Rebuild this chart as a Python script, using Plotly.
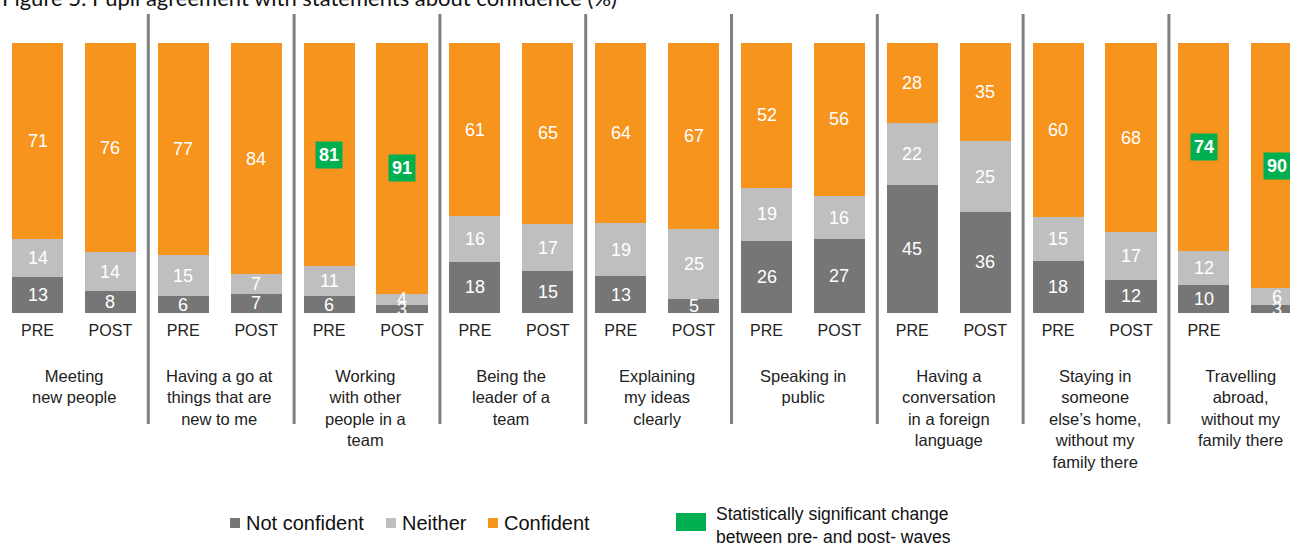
import plotly.graph_objects as go

# Confidence statements (one group per statement, PRE and POST bars each)
statements = [
    "Meeting<br>new people",
    "Having a go at<br>things that are<br>new to me",
    "Working<br>with other<br>people in a<br>team",
    "Being the<br>leader of a<br>team",
    "Explaining<br>my ideas<br>clearly",
    "Speaking in<br>public",
    "Having a<br>conversation<br>in a foreign<br>language",
    "Staying in<br>someone<br>else\u2019s home,<br>without my<br>family there",
    "Travelling<br>abroad,<br>without my<br>family there",
]
waves = ["PRE", "POST"]

# Percentages, ordered PRE, POST for each statement
not_confident = [13, 8, 6, 7, 6, 3, 18, 15, 13, 5, 26, 27, 45, 36, 18, 12, 10, 3]
neither = [14, 14, 15, 7, 11, 4, 16, 17, 19, 25, 19, 16, 22, 25, 15, 17, 12, 6]
confident = [71, 76, 77, 84, 81, 91, 61, 65, 64, 67, 52, 56, 28, 35, 60, 68, 74, 90]

# Bars whose 'Confident' value changed significantly between waves
significant = [4, 5, 16, 17]

C_NOT = "#767676"
C_NEI = "#BFBFBF"
C_CON = "#F7941D"
C_SIG = "#00B050"
FONT = "Liberation Sans, Arial, sans-serif"

n = len(confident)
xs = list(range(n))
tick_text = [waves[i % 2] for i in xs]

# Plot area spans pixel rows 43..313; helper maps a pixel row to paper y
TOP, BOT = 43, 313
def py(p):
    return (BOT - p) / (BOT - TOP)

fig = go.Figure()
for name, vals, col in [("Not confident", not_confident, C_NOT),
                        ("Neither", neither, C_NEI),
                        ("Confident", confident, C_CON)]:
    fig.add_trace(go.Bar(x=xs, y=vals, name=name, marker_color=col,
                         marker_line_width=0, width=0.70, showlegend=False))

annotations = []
# value labels centred in each normalised segment
for i in xs:
    total = not_confident[i] + neither[i] + confident[i]
    base = 0.0
    for j, v in enumerate([not_confident[i], neither[i], confident[i]]):
        h = v / total * 100
        yc = base + h / 2
        base += h
        if j == 2 and i in significant:
            annotations.append(dict(
                x=i, y=yc, xref="x", yref="y", text="<b>%d</b>" % v,
                showarrow=False, bgcolor=C_SIG, borderpad=3,
                font=dict(family=FONT, size=18, color="white")))
        else:
            annotations.append(dict(
                x=i, y=yc, xref="x", yref="y", text=str(v), showarrow=False,
                font=dict(family=FONT, size=18, color="white")))

# statement labels under each pair of bars
for g, s in enumerate(statements):
    annotations.append(dict(
        x=2 * g + 0.5, y=py(365), xref="x", yref="paper", text=s,
        showarrow=False, yanchor="top", xanchor="center", align="center",
        font=dict(family=FONT, size=16.5, color="#222222")))

# title
annotations.append(dict(
    x=0, y=py(-3), xref="paper", yref="paper", xanchor="left", yanchor="middle",
    text="Figure 5: Pupil agreement with statements about confidence (%)",
    showarrow=False, font=dict(family="Lato, sans-serif", size=22, color="#111111")))

shapes = []
# group separators
for g in range(len(statements) - 1):
    shapes.append(dict(type="line", xref="x", yref="paper",
                       x0=2 * g + 1.52, x1=2 * g + 1.52, y0=py(14), y1=py(424),
                       line=dict(color="#808080", width=3)))

# legend: series markers
legend_items = [("Not confident", C_NOT, 230, 244),
                ("Neither", C_NEI, 386, 400),
                ("Confident", C_CON, 488, 502)]
W = 1290
for label, col, sx, tx in legend_items:
    shapes.append(dict(type="rect", xref="paper", yref="paper",
                       x0=sx / W, x1=(sx + 10) / W, y0=py(528), y1=py(518),
                       fillcolor=col, line_width=0))
    annotations.append(dict(x=tx / W, y=py(523), xref="paper", yref="paper",
                            xanchor="left", yanchor="middle", text=label,
                            showarrow=False,
                            font=dict(family=FONT, size=20, color="#111111")))

# legend: significance marker
shapes.append(dict(type="rect", xref="paper", yref="paper",
                   x0=676 / W, x1=706 / W, y0=py(531), y1=py(513),
                   fillcolor=C_SIG, line_width=0))
annotations.append(dict(x=714 / W, y=py(525), xref="paper", yref="paper",
                        xanchor="left", yanchor="middle", align="left",
                        text="Statistically significant change<br>between pre- and post- waves",
                        showarrow=False,
                        font=dict(family=FONT, size=17.5, color="#111111")))

fig.update_layout(
    width=1290, height=543,
    margin=dict(l=0, r=0, t=TOP, b=543 - BOT, pad=0),
    barmode="stack", barnorm="percent",
    plot_bgcolor="white", paper_bgcolor="white",
    annotations=annotations, shapes=shapes,
    xaxis=dict(range=[-0.5144, 17.181], tickmode="array", tickvals=xs,
               ticktext=tick_text, ticks="", showgrid=False, zeroline=False,
               showline=False, ticklabelstandoff=6,
               tickfont=dict(family=FONT, size=16, color="#222222")),
    yaxis=dict(range=[0, 100], visible=False, showgrid=False),
    showlegend=False,
)

fig.write_html("out.html")
